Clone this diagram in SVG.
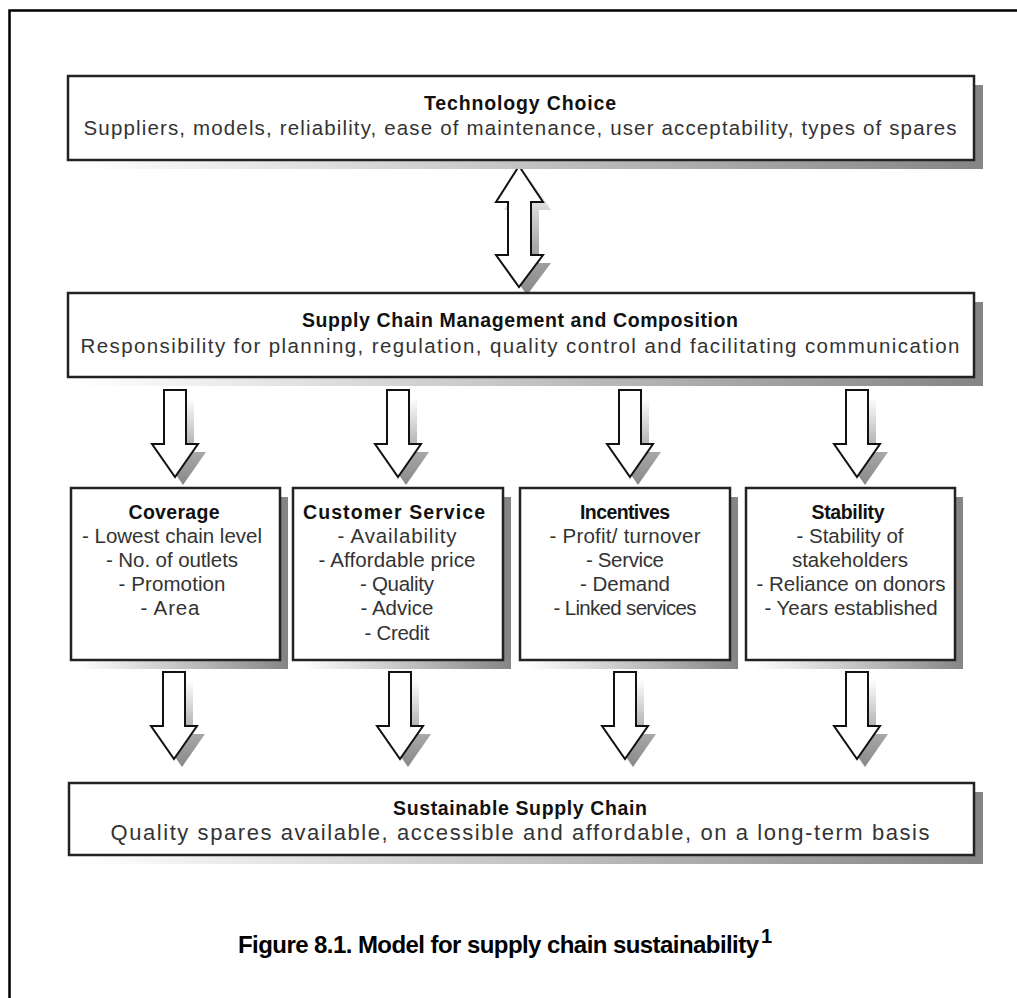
<svg xmlns="http://www.w3.org/2000/svg" width="1017" height="998" viewBox="0 0 1017 998">
<style>
.box{fill:#fff;stroke:#222;stroke-width:2.5}
.rs{fill:#858585}
.bs{fill:url(#bsh)}
.arr{fill:#fff;stroke:#111;stroke-width:2;stroke-linejoin:miter}
.ash{fill:url(#ash)}
.t{font-family:"Liberation Sans",Arial,sans-serif;font-size:19.5px;font-weight:bold;fill:#111;text-anchor:middle}
.s{font-family:"Liberation Sans",Arial,sans-serif;font-size:20.5px;fill:#333;text-anchor:middle}
.cap{font-family:"Liberation Sans",Arial,sans-serif;font-size:24px;font-weight:bold;fill:#000}
</style>
<defs>
<linearGradient id="bsh" x1="0" y1="0" x2="1" y2="0">
<stop offset="0" stop-color="#fff"/>
<stop offset="1" stop-color="#858585"/>
</linearGradient>
<linearGradient id="ash" x1="0" y1="0" x2="0" y2="1">
<stop offset="0" stop-color="#fff"/>
<stop offset="0.6" stop-color="#aaa"/>
<stop offset="1" stop-color="#888"/>
</linearGradient>
<path id="down" d="M-11,0 H11 V54 H23 L0,87 L-23,54 H-11 Z"/>
</defs>
<rect width="1017" height="998" fill="#fff"/>
<path d="M9.5,998 V10.5 H1017" fill="none" stroke="#000" stroke-width="2.5"/>

<g id="connectors">
<path class="ash" transform="translate(8,8)" d="M519,166 L543,202 H531 V255 H543 L519,287 L496,255 H508 V202 H496 Z"/>
<path class="arr" d="M519,166 L543,202 H531 V255 H543 L519,287 L496,255 H508 V202 H496 Z"/>
<use href="#down" class="ash" transform="translate(183,398)"/>
<use href="#down" class="arr" transform="translate(175,390)"/>
<use href="#down" class="ash" transform="translate(406,398)"/>
<use href="#down" class="arr" transform="translate(398,390)"/>
<use href="#down" class="ash" transform="translate(638,398)"/>
<use href="#down" class="arr" transform="translate(630,390)"/>
<use href="#down" class="ash" transform="translate(865,398)"/>
<use href="#down" class="arr" transform="translate(857,390)"/>
<use href="#down" class="ash" transform="translate(182,680)"/>
<use href="#down" class="arr" transform="translate(174,672)"/>
<use href="#down" class="ash" transform="translate(408,680)"/>
<use href="#down" class="arr" transform="translate(400,672)"/>
<use href="#down" class="ash" transform="translate(633,680)"/>
<use href="#down" class="arr" transform="translate(625,672)"/>
<use href="#down" class="ash" transform="translate(865,680)"/>
<use href="#down" class="arr" transform="translate(857,672)"/>
</g>

<g id="technology">
<rect class="rs" x="974" y="85" width="9" height="84"/>
<rect class="bs" x="77" y="160" width="906" height="9"/>
<rect class="box" x="68" y="76" width="906" height="84"/>
<text class="t" x="520" y="110" textLength="192">Technology Choice</text>
<text class="s" x="520" y="135" textLength="873">Suppliers, models, reliability, ease of maintenance, user acceptability, types of spares</text>
</g>

<g id="management">
<rect class="rs" x="974" y="302" width="9" height="84"/>
<rect class="bs" x="77" y="377" width="906" height="9"/>
<rect class="box" x="68" y="293" width="906" height="84"/>
<text class="t" x="520" y="327" textLength="436">Supply Chain Management and Composition</text>
<text class="s" x="520" y="353" textLength="879">Responsibility for planning, regulation, quality control and facilitating communication</text>
</g>

<g id="coverage">
<rect class="rs" x="280" y="497" width="8" height="172"/>
<rect class="bs" x="79" y="660" width="209" height="9"/>
<rect class="box" x="71" y="488" width="209" height="172"/>
<text class="t" x="174" y="519" textLength="91">Coverage</text>
<text class="s" x="172" y="543" textLength="180">- Lowest chain level</text>
<text class="s" x="172" y="567" textLength="132">- No. of outlets</text>
<text class="s" x="172" y="591" textLength="107">- Promotion</text>
<text class="s" x="170" y="615" textLength="59">- Area</text>
</g>

<g id="customer-service">
<rect class="rs" x="503" y="497" width="8" height="172"/>
<rect class="bs" x="301" y="660" width="210" height="9"/>
<rect class="box" x="293" y="488" width="210" height="172"/>
<text class="t" x="394" y="519" textLength="182">Customer Service</text>
<text class="s" x="397" y="543" textLength="119">- Availability</text>
<text class="s" x="397" y="567" textLength="157">- Affordable price</text>
<text class="s" x="397" y="591" textLength="74">- Quality</text>
<text class="s" x="397" y="615" textLength="73">- Advice</text>
<text class="s" x="397" y="640" textLength="65">- Credit</text>
</g>

<g id="incentives">
<rect class="rs" x="730" y="497" width="8" height="172"/>
<rect class="bs" x="528" y="660" width="210" height="9"/>
<rect class="box" x="520" y="488" width="210" height="172"/>
<text class="t" x="625" y="519" textLength="90">Incentives</text>
<text class="s" x="625" y="543" textLength="151">- Profit/ turnover</text>
<text class="s" x="625" y="567" textLength="78">- Service</text>
<text class="s" x="625" y="591">- Demand</text>
<text class="s" x="625" y="615" textLength="143">- Linked services</text>
</g>

<g id="stability">
<rect class="rs" x="955" y="497" width="8" height="172"/>
<rect class="bs" x="754" y="660" width="209" height="9"/>
<rect class="box" x="746" y="488" width="209" height="172"/>
<text class="t" x="848" y="519" textLength="73">Stability</text>
<text class="s" x="850" y="543">- Stability of</text>
<text class="s" x="850" y="567">stakeholders</text>
<text class="s" x="851" y="591">- Reliance on donors</text>
<text class="s" x="851" y="615">- Years established</text>
</g>

<g id="sustainable">
<rect class="rs" x="974" y="792" width="9" height="72"/>
<rect class="bs" x="78" y="855" width="905" height="9"/>
<rect class="box" x="69" y="783" width="905" height="72"/>
<text class="t" x="520" y="815" textLength="254">Sustainable Supply Chain</text>
<text class="s" x="520" y="840" style="font-size:22px" textLength="819">Quality spares available, accessible and affordable, on a long-term basis</text>
</g>

<g id="caption">
<text class="cap" x="238" y="953" textLength="521">Figure 8.1. Model for supply chain sustainability</text>
<text class="cap" x="761" y="943" style="font-size:20px">1</text>
</g>
</svg>
